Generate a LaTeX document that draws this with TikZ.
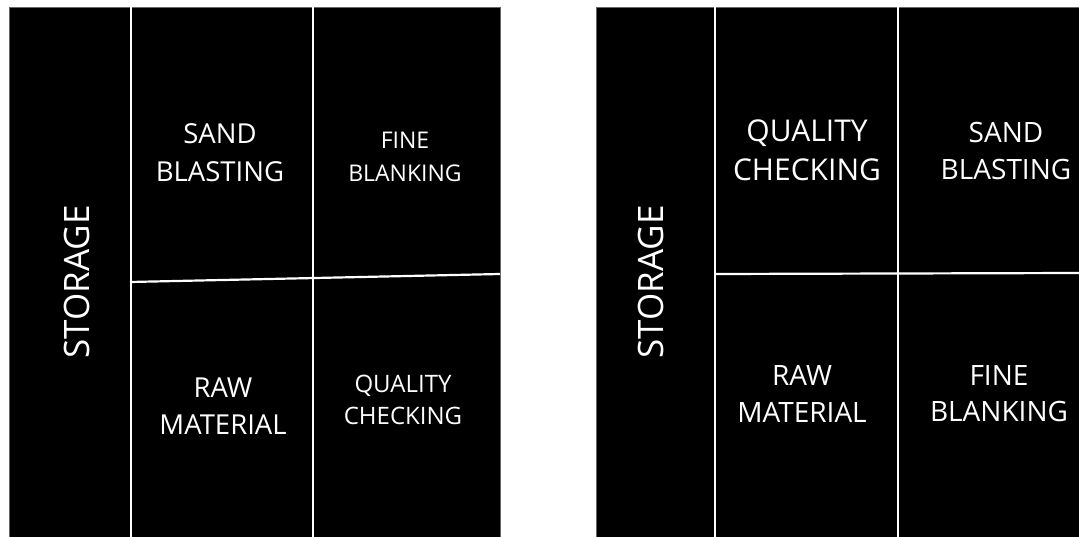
\documentclass[tikz,border=0pt]{standalone}
\usepackage{fontspec}
\setmainfont{Open Sans}
\begin{document}
\begin{tikzpicture}[x=1pt,y=-1pt,
  panel/.style={fill=black,draw=black!60,line width=0.6pt},
  divider/.style={draw=white,line width=2.2pt},
  lbl/.style={text=white,align=center,inner sep=0pt},
  fs/.style 2 args={lbl,font=\fontsize{#1}{#2}\selectfont},
  store/.style={lbl,font=\fontsize{35}{40}\selectfont,rotate=90}]
\useasboundingbox (0,0) rectangle (1079,537);
\fill[white] (0,0) rectangle (1079,537);
% left panel
\draw[panel] (9,7) rectangle (500,537);
\draw[divider] (131,7) -- (131,537);
\draw[divider] (313,7) -- (313,537);
\draw[divider] (130,282) -- (500,274);
% right panel
\draw[panel] (596,7) rectangle (1079,537);
\draw[divider] (715,7) -- (715,537);
\draw[divider] (898,7) -- (898,537);
\draw[divider] (715,274) -- (1079,273);
% left labels
\node[store] (ls) at (77,282) {STORAGE};
\node[fs={27.5}{38}] (lsb) at (220,153) {SAND\\BLASTING};
\node[fs={23}{33}] (lfb) at (405,157) {FINE\\BLANKING};
\node[fs={27.5}{37}] (lrm) at (223,406) {RAW\\MATERIAL};
\node[fs={24}{32}] (lqc) at (403,400) {QUALITY\\CHECKING};
% right labels
\node[store] (rs) at (651,282) {STORAGE};
\node[fs={30}{39}] (rqc) at (807,150) {QUALITY\\CHECKING};
\node[fs={28}{37}] (rsb) at (1006,151) {SAND\\BLASTING};
\node[fs={28}{37}] (rrm) at (802,394) {RAW\\MATERIAL};
\node[fs={28}{36}] (rfb) at (999,394) {FINE\\BLANKING};
\end{tikzpicture}
\end{document}
